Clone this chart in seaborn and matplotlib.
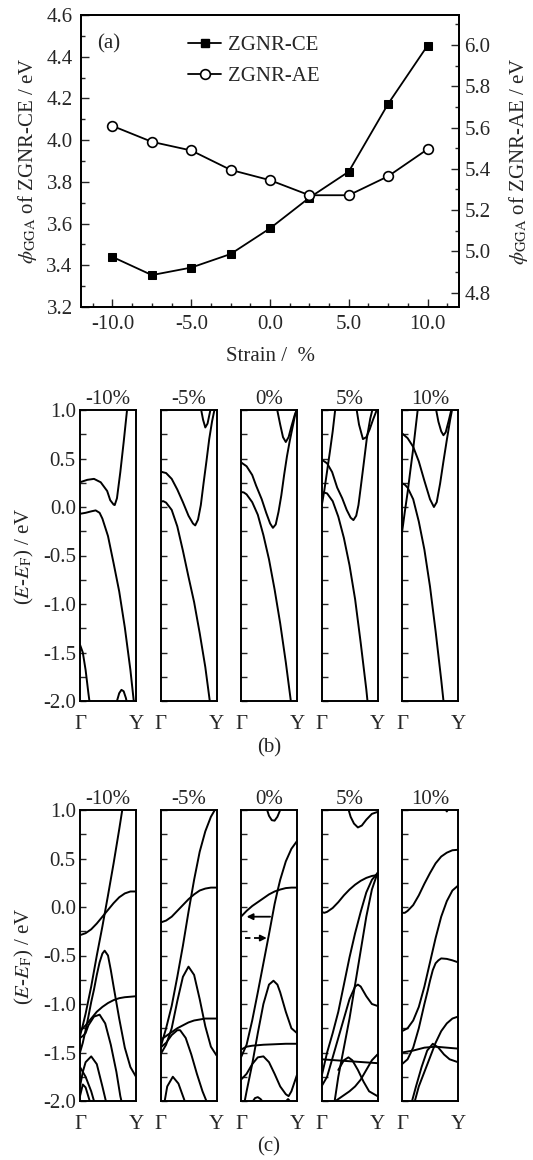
import matplotlib
matplotlib.use("Agg")
import matplotlib.pyplot as plt
import seaborn as sns
from matplotlib.ticker import MultipleLocator, FormatStrFormatter
from matplotlib.lines import Line2D

# ---------------- data: panel (a) ----------------
STRAIN = [-10, -7.5, -5, -2.5, 0, 2.5, 5, 7.5, 10]
PHI_CE = [3.44, 3.353, 3.389, 3.454, 3.577, 3.724, 3.849, 4.174, 4.453]
PHI_AE = [5.608, 5.531, 5.489, 5.395, 5.345, 5.272, 5.272, 5.364, 5.495]
SERIES = ["ZGNR-CE", "ZGNR-AE"]
XTICKS_A = [-10, -5, 0, 5, 10]

# ---------------- data: band structures (k from Gamma=0 to Y=1, E-EF in eV) ----
STRAIN_LABELS = ["-10%", "-5%", "0%", "5%", "10%"]
KPOINT_LABELS = ["\u0393", "Y"]

B_M10 = [
    ([0, 0.13, 0.25, 0.37, 0.485, 0.54, 0.6, 0.62, 0.66, 0.72, 0.78, 0.84, 0.87],
     [0.255, 0.28, 0.29, 0.255, 0.165, 0.07, 0.025, 0.02, 0.09, 0.36, 0.67, 1.0, 1.15]),
    ([0, 0.1, 0.2, 0.28, 0.35, 0.4, 0.5, 0.6, 0.7, 0.8, 0.9, 0.96, 1.0],
     [-0.07, -0.06, -0.045, -0.035, -0.06, -0.12, -0.3, -0.58, -0.87, -1.24, -1.68, -2.0, -2.2]),
    ([0, 0.05, 0.1, 0.15, 0.18], [-1.42, -1.5, -1.68, -1.92, -2.05]),
    ([0.66, 0.7, 0.74, 0.78, 0.82, 0.85], [-2.0, -1.92, -1.885, -1.9, -1.97, -2.05]),
]
B_M5 = [
    ([0, 0.1, 0.2, 0.3, 0.4, 0.5, 0.58, 0.62, 0.67, 0.72, 0.77, 0.82, 0.87, 0.92, 0.97],
     [0.365, 0.35, 0.29, 0.18, 0.05, -0.09, -0.17, -0.19, -0.13, 0.02, 0.25, 0.47, 0.7, 0.88, 1.02]),
    ([0, 0.05, 0.1, 0.2, 0.3, 0.4, 0.5, 0.6, 0.7, 0.8, 0.88, 0.95],
     [0.055, 0.06, 0.045, -0.03, -0.2, -0.45, -0.72, -0.98, -1.3, -1.65, -2.0, -2.3]),
    ([0.72, 0.76, 0.8, 0.84, 0.88, 0.91], [1.02, 0.9, 0.82, 0.86, 0.97, 1.05]),
]
B_0 = [
    ([0, 0.1, 0.2, 0.27, 0.37, 0.45, 0.52, 0.57, 0.62, 0.67, 0.72, 0.77, 0.82, 0.87, 0.92, 0.97, 1.0],
     [0.46, 0.42, 0.33, 0.22, 0.08, -0.06, -0.17, -0.215, -0.18, -0.05, 0.12, 0.33, 0.52, 0.68, 0.82, 0.96, 1.02]),
    ([0, 0.05, 0.1, 0.2, 0.3, 0.4, 0.5, 0.6, 0.7, 0.8, 0.89, 0.95],
     [0.155, 0.15, 0.13, 0.05, -0.08, -0.29, -0.54, -0.85, -1.2, -1.6, -2.0, -2.3]),
    ([0.64, 0.7, 0.75, 0.8, 0.85, 0.9, 0.96, 1.0], [1.02, 0.85, 0.72, 0.67, 0.72, 0.83, 0.95, 1.0]),
]
B_5 = [
    ([0, 0.1, 0.19, 0.28, 0.37, 0.45, 0.52, 0.57, 0.62, 0.66, 0.7, 0.75, 0.81, 0.87, 0.92],
     [0.49, 0.45, 0.36, 0.2, 0.09, -0.03, -0.11, -0.135, -0.09, 0.02, 0.2, 0.43, 0.71, 0.91, 1.03]),
    ([0, 0.04, 0.1, 0.2, 0.3, 0.4, 0.5, 0.6, 0.7, 0.8, 0.83],
     [0.125, 0.15, 0.14, 0.06, -0.1, -0.32, -0.6, -0.95, -1.4, -1.88, -2.05]),
    ([0.62, 0.67, 0.74, 0.8, 0.86, 0.92, 0.98, 1.0], [1.03, 0.85, 0.7, 0.72, 0.8, 0.9, 0.99, 1.02]),
    ([0, 0.05, 0.1, 0.15, 0.2, 0.24, 0.27], [0.0, 0.17, 0.37, 0.57, 0.78, 0.98, 1.1]),
]
B_10 = [
    ([0, 0.1, 0.2, 0.3, 0.4, 0.5, 0.57, 0.62, 0.68, 0.74, 0.8, 0.86, 0.9],
     [0.76, 0.71, 0.62, 0.47, 0.27, 0.08, 0.0, 0.05, 0.24, 0.47, 0.69, 0.9, 1.02]),
    ([0.6, 0.65, 0.7, 0.74, 0.78, 0.83, 0.88, 0.9], [1.03, 0.88, 0.78, 0.74, 0.77, 0.88, 1.0, 1.05]),
    ([0, 0.05, 0.1, 0.2, 0.3, 0.4, 0.5, 0.6, 0.7, 0.75],
     [0.245, 0.23, 0.2, 0.08, -0.15, -0.44, -0.82, -1.28, -1.78, -2.05]),
    ([0, 0.02, 0.05, 0.1, 0.15, 0.2, 0.25, 0.29], [-0.26, -0.18, -0.05, 0.15, 0.38, 0.6, 0.85, 1.05]),
]

C_M10 = [
    ([0, 0.05, 0.1, 0.2, 0.3, 0.4, 0.5, 0.6, 0.7, 0.76],
     [-1.33, -1.22, -1.1, -0.82, -0.5, -0.2, 0.12, 0.45, 0.8, 1.02]),
    ([0, 0.1, 0.2, 0.3, 0.4, 0.5, 0.6, 0.7, 0.8, 0.9, 1.0],
     [-0.29, -0.27, -0.23, -0.17, -0.1, -0.03, 0.04, 0.1, 0.14, 0.16, 0.16]),
    ([0, 0.05, 0.1, 0.15, 0.2, 0.25, 0.3, 0.35, 0.4, 0.44, 0.5, 0.55, 0.6, 0.7, 0.8, 0.9, 1.0],
     [-1.5, -1.4, -1.27, -1.13, -0.98, -0.85, -0.7, -0.57, -0.48, -0.45, -0.5, -0.65, -0.82, -1.15, -1.45, -1.65, -1.75]),
    ([0, 0.1, 0.2, 0.3, 0.4, 0.5, 0.6, 0.7, 0.8, 0.9, 1.0],
     [-1.28, -1.22, -1.15, -1.08, -1.03, -0.99, -0.96, -0.94, -0.93, -0.925, -0.92]),
    ([0, 0.05, 0.1, 0.15, 0.25, 0.35, 0.45, 0.55, 0.65, 0.72, 0.76],
     [-1.35, -1.33, -1.3, -1.22, -1.13, -1.11, -1.2, -1.42, -1.7, -1.95, -2.05]),
    ([0, 0.05, 0.1, 0.2, 0.3, 0.4, 0.47], [-1.85, -1.7, -1.6, -1.54, -1.62, -1.85, -2.02]),
    ([0, 0.05, 0.1, 0.2], [-1.95, -1.83, -1.86, -2.05]),
    ([0, 0.1, 0.2, 0.26], [-1.65, -1.75, -1.9, -2.02]),
]
C_M5 = [
    ([0, 0.05, 0.1, 0.2, 0.3, 0.4, 0.5, 0.6, 0.7, 0.8, 0.9, 0.97],
     [-1.45, -1.35, -1.25, -1.02, -0.72, -0.4, -0.05, 0.28, 0.57, 0.78, 0.93, 1.0]),
    ([0, 0.1, 0.2, 0.3, 0.4, 0.5, 0.6, 0.7, 0.8, 0.9, 1.0],
     [-0.16, -0.14, -0.1, -0.04, 0.02, 0.08, 0.13, 0.17, 0.19, 0.2, 0.2]),
    ([0, 0.1, 0.2, 0.3, 0.4, 0.5, 0.6, 0.7, 0.8, 0.9, 1.0],
     [-1.52, -1.42, -1.25, -0.97, -0.72, -0.615, -0.7, -0.95, -1.23, -1.44, -1.53]),
    ([0, 0.1, 0.2, 0.3, 0.4, 0.5, 0.6, 0.7, 0.8, 1.0],
     [-1.37, -1.33, -1.29, -1.25, -1.22, -1.19, -1.17, -1.16, -1.15, -1.15]),
    ([0, 0.1, 0.2, 0.3, 0.35, 0.45, 0.55, 0.65, 0.75, 0.82, 0.85],
     [-1.45, -1.4, -1.32, -1.27, -1.27, -1.35, -1.52, -1.72, -1.9, -2.0, -2.05]),
    ([0.06, 0.12, 0.22, 0.32, 0.42, 0.46], [-2.05, -1.85, -1.75, -1.82, -1.98, -2.05]),
]
C_0 = [
    ([0, 0.1, 0.2, 0.3, 0.4, 0.5, 0.6, 0.65, 0.7, 0.8, 0.9, 1.0],
     [-1.55, -1.42, -1.17, -0.88, -0.58, -0.28, 0.03, 0.16, 0.28, 0.47, 0.6, 0.68]),
    ([0, 0.1, 0.2, 0.3, 0.4, 0.5, 0.6, 0.7, 0.8, 0.9, 1.0],
     [-0.1, -0.04, 0.01, 0.05, 0.09, 0.13, 0.16, 0.18, 0.195, 0.2, 0.2]),
    ([0.45, 0.5, 0.55, 0.6, 0.65, 0.7, 0.73], [1.03, 0.94, 0.895, 0.89, 0.93, 1.0, 1.04]),
    ([0.05, 0.1, 0.2, 0.3, 0.4, 0.5, 0.58, 0.65, 0.7, 0.8, 0.9, 1.0],
     [-2.05, -1.9, -1.62, -1.3, -1.0, -0.8, -0.76, -0.8, -0.88, -1.08, -1.25, -1.3]),
    ([0, 0.1, 0.2, 0.4, 0.6, 0.8, 1.0], [-1.47, -1.44, -1.43, -1.42, -1.415, -1.41, -1.41]),
    ([0, 0.1, 0.2, 0.3, 0.4, 0.5, 0.6, 0.7, 0.8, 0.85, 0.9, 1.0],
     [-1.78, -1.72, -1.62, -1.55, -1.54, -1.6, -1.72, -1.85, -1.93, -1.95, -1.9, -1.73]),
    ([0.18, 0.25, 0.3, 0.35, 0.42], [-2.03, -1.97, -1.96, -1.98, -2.03]),
    ([0.76, 0.84, 0.92], [-2.03, -1.98, -2.03]),
]
C_5 = [
    ([0.47, 0.52, 0.58, 0.65, 0.72, 0.8, 0.9, 1.0], [1.03, 0.93, 0.86, 0.82, 0.84, 0.9, 0.96, 0.98]),
    ([0, 0.05, 0.1, 0.2, 0.3, 0.4, 0.5, 0.6, 0.7, 0.8, 0.9, 1.0],
     [-0.05, -0.06, -0.05, -0.01, 0.05, 0.12, 0.18, 0.23, 0.27, 0.3, 0.32, 0.33]),
    ([0, 0.1, 0.2, 0.3, 0.4, 0.5, 0.6, 0.7, 0.8, 0.9, 1.0],
     [-1.75, -1.5, -1.3, -1.08, -0.8, -0.52, -0.27, -0.05, 0.15, 0.28, 0.35]),
    ([0.23, 0.3, 0.4, 0.5, 0.6, 0.7, 0.8, 0.9, 1.0],
     [-2.02, -1.75, -1.45, -1.15, -0.8, -0.45, -0.1, 0.18, 0.35]),
    ([0, 0.1, 0.2, 0.3, 0.4, 0.5, 0.6, 0.65, 0.7, 0.8, 0.9, 1.0],
     [-1.85, -1.75, -1.55, -1.35, -1.15, -0.95, -0.82, -0.8, -0.82, -0.92, -1.0, -1.02]),
    ([0, 0.25, 0.5, 0.75, 1.0], [-1.57, -1.58, -1.59, -1.6, -1.61]),
    ([0.3, 0.4, 0.48, 0.55, 0.65, 0.75, 0.85, 1.0], [-1.68, -1.58, -1.55, -1.58, -1.68, -1.8, -1.9, -1.95]),
    ([0.2, 0.3, 0.4, 0.5, 0.6, 0.7, 0.8, 0.9, 1.0], [-2.02, -1.98, -1.94, -1.9, -1.85, -1.78, -1.68, -1.58, -1.52]),
]
C_10 = [
    ([0, 0.05, 0.1, 0.2, 0.3, 0.4, 0.5, 0.6, 0.7, 0.8, 0.9, 1.0],
     [-0.06, -0.06, -0.04, 0.02, 0.12, 0.24, 0.35, 0.45, 0.52, 0.56, 0.585, 0.59]),
    ([0, 0.1, 0.2, 0.3, 0.4, 0.5, 0.6, 0.7, 0.8, 0.9, 1.0],
     [-1.28, -1.25, -1.17, -1.03, -0.82, -0.57, -0.32, -0.1, 0.06, 0.17, 0.22]),
    ([0, 0.1, 0.2, 0.3, 0.4, 0.46, 0.5, 0.55, 0.6, 0.65, 0.7, 0.8, 0.9, 1.0],
     [-1.62, -1.57, -1.45, -1.25, -1.0, -0.86, -0.76, -0.65, -0.58, -0.55, -0.53, -0.535, -0.55, -0.57]),
    ([0.22, 0.3, 0.4, 0.5, 0.6, 0.7, 0.8, 0.9, 1.0], [-2.02, -1.85, -1.7, -1.55, -1.4, -1.28, -1.2, -1.15, -1.13]),
    ([0.17, 0.25, 0.35, 0.45, 0.55, 0.65, 0.75, 0.85, 1.0], [-2.02, -1.85, -1.65, -1.48, -1.41, -1.45, -1.52, -1.57, -1.6]),
    ([0, 0.2, 0.4, 0.6, 0.8, 1.0], [-1.5, -1.48, -1.45, -1.44, -1.45, -1.46]),
    ([0.76, 0.8, 0.84], [1.02, 0.985, 1.02]),
]
BANDS_B = [B_M10, B_M5, B_0, B_5, B_10]
BANDS_C = [C_M10, C_M5, C_0, C_5, C_10]

# arrows in panel (c), 0 % : (k_start, k_end, E)
ARROW_SOLID = (0.52, 0.10, -0.10)
ARROW_DASHED = (0.07, 0.46, -0.32)

# ---------------- style ----------------
sns.set_style("white")
plt.rcParams['font.family'] = ['Liberation Serif', 'DejaVu Serif']
plt.rcParams['mathtext.fontset'] = 'stix'
plt.rcParams['axes.unicode_minus'] = False
FS = 15

W, H = 533, 1160
fig = plt.figure(figsize=(W / 100, H / 100), dpi=100)


def rect(left, top, width, height):
    return [left / W, 1 - (top + height) / H, width / W, height / H]


# ---------------- panel (a) ----------------
axA = fig.add_axes(rect(81, 15, 378, 292))
sns.lineplot(x=STRAIN, y=PHI_CE, ax=axA, color='k', linewidth=1.3, marker='s',
             markersize=6, markerfacecolor='k', markeredgecolor='k', legend=False)
axB = axA.twinx()
sns.lineplot(x=STRAIN, y=PHI_AE, ax=axB, color='k', linewidth=1.3, marker='o',
             markersize=7, markerfacecolor='white', markeredgecolor='k',
             markeredgewidth=1.2, legend=False)
axA.set_xlim(-12, 12)
axA.set_ylim(3.2, 4.6)
axB.set_ylim(4.73, 6.146)
axA.set_xticks(XTICKS_A)
axA.xaxis.set_minor_locator(MultipleLocator(1.25))
axA.xaxis.set_major_formatter(FormatStrFormatter('%.1f'))
axA.yaxis.set_major_locator(MultipleLocator(0.2))
axA.yaxis.set_minor_locator(MultipleLocator(0.1))
axA.yaxis.set_major_formatter(FormatStrFormatter('%.1f'))
axB.yaxis.set_major_locator(MultipleLocator(0.2))
axB.yaxis.set_minor_locator(MultipleLocator(0.1))
axB.yaxis.set_major_formatter(FormatStrFormatter('%.1f'))
axA.tick_params(which='both', direction='in', bottom=True, left=True, top=False, right=False,
                labelsize=FS, width=1.0)
axA.tick_params(which='major', length=6, pad=6)
axA.tick_params(which='minor', length=3)
axB.tick_params(which='both', direction='in', right=True, left=False, top=False, bottom=False,
                labelsize=FS, width=1.0)
axB.tick_params(which='major', length=6, pad=4)
axB.tick_params(which='minor', length=3)
for ax in (axA, axB):
    for s in ax.spines.values():
        s.set_linewidth(1.3)
        s.set_color('k')
axA.set_xlabel("Strain /  %", fontsize=FS, labelpad=9)
axA.set_ylabel(r"$\phi_{\mathrm{GGA}}$ of ZGNR-CE / eV", fontsize=FS, labelpad=5)
axB.set_ylabel(r"$\phi_{\mathrm{GGA}}$ of ZGNR-AE / eV", fontsize=FS, labelpad=12)
handles = [Line2D([], [], color='k', lw=1.3, marker='s', ms=6),
           Line2D([], [], color='k', lw=1.3, marker='o', ms=7, mfc='white', mew=1.2)]
axB.legend(handles, SERIES, loc='upper left', bbox_to_anchor=(0.283, 0.93), frameon=False,
           fontsize=FS, handlelength=1.6, handletextpad=0.3, labelspacing=0.55,
           borderpad=0, borderaxespad=0)
fig.text(97 / W, 1 - 44 / H, "(a)", fontsize=FS, va='center', ha='left')

# ---------------- panels (b) and (c) ----------------
LEFTS = [80, 160.5, 241, 321.5, 402]
ROWS = [(410, BANDS_B, "(b)", 748), (810, BANDS_C, "(c)", 1147)]
for top, bands, tag, tag_y in ROWS:
    axes = []
    for i, left in enumerate(LEFTS):
        ax = fig.add_axes(rect(left, top, 56, 291))
        for k, e in bands[i]:
            sns.lineplot(x=k, y=e, ax=ax, color='k', linewidth=1.4, sort=False,
                         estimator=None, legend=False)
        ax.set_xlim(0, 1)
        ax.set_ylim(-2, 1)
        ax.set_xticks([0, 1])
        ax.set_xticklabels(KPOINT_LABELS)
        ax.set_xlabel("")
        ax.set_ylabel("")
        ax.tick_params(axis='x', length=0, pad=10, labelsize=FS, bottom=True)
        ax.yaxis.set_major_locator(MultipleLocator(0.5))
        ax.yaxis.set_minor_locator(MultipleLocator(0.25))
        ax.yaxis.set_major_formatter(FormatStrFormatter('%.1f'))
        ax.tick_params(axis='y', which='both', direction='in', length=4, width=1.0,
                       left=True, right=False, labelsize=FS, labelleft=(i == 0), pad=3)
        for s in ax.spines.values():
            s.set_linewidth(1.4)
            s.set_color('k')
        ax.set_title(STRAIN_LABELS[i], fontsize=FS, pad=4)
        axes.append(ax)
    fig.text(269 / W, 1 - tag_y / H, tag, fontsize=FS, ha='center', va='center')
    fig.text(24 / W, 1 - (top + 146) / H, r"($E$-$E_{\mathrm{F}}$) / eV", fontsize=FS,
             rotation=90, ha='center', va='center')
    if tag == "(c)":
        ax0 = axes[2]
        k0, k1, e = ARROW_SOLID
        ax0.annotate('', xy=(k1, e), xytext=(k0, e),
                     arrowprops=dict(arrowstyle='-|>', color='k', lw=1.3, mutation_scale=9,
                                     shrinkA=0, shrinkB=0))
        k0, k1, e = ARROW_DASHED
        kh = k1 - 0.12
        ax0.plot([k0, kh], [e, e], color='k', lw=1.3, dashes=(3, 2))
        ax0.annotate('', xy=(k1, e), xytext=(kh, e),
                     arrowprops=dict(arrowstyle='-|>', color='k', lw=1.3, mutation_scale=9,
                                     shrinkA=0, shrinkB=0))

fig.savefig("out.png", dpi=100)
